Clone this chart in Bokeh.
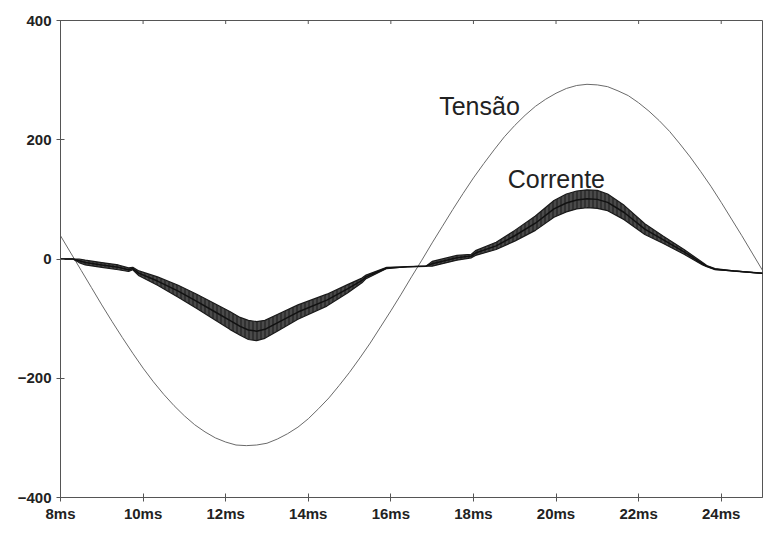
from math import pi

from bokeh.plotting import figure
from bokeh.models import FixedTicker, Range1d, ColumnDataSource
from bokeh.core.properties import value
from bokeh.embed import file_html
from bokeh.resources import INLINE

# Tensão (voltage) sampled every 0.25 ms from 8 ms to 25 ms
v_time = [8.00, 8.25, 8.50, 8.75, 9.00, 9.25, 9.50, 9.75, 10.00, 10.25, 10.50, 10.75,
          11.00, 11.25, 11.50, 11.75, 12.00, 12.25, 12.50, 12.75, 13.00, 13.25, 13.50, 13.75,
          14.00, 14.25, 14.50, 14.75, 15.00, 15.25, 15.50, 15.75, 16.00, 16.25, 16.50, 16.75,
          17.00, 17.25, 17.50, 17.75, 18.00, 18.25, 18.50, 18.75, 19.00, 19.25, 19.50, 19.75,
          20.00, 20.25, 20.50, 20.75, 21.00, 21.25, 21.50, 21.75, 22.00, 22.25, 22.50, 22.75,
          23.00, 23.25, 23.50, 23.75, 24.00, 24.25, 24.50, 24.75, 25.00]
tensao = [39, 10, -19, -48, -77, -105, -132, -158, -183, -206, -227, -246,
          -263, -278, -290, -300, -307, -312, -313, -312, -309, -302, -293, -282,
          -268, -251, -233, -212, -190, -166, -141, -114, -87, -59, -30, -2,
          27, 55, 83, 110, 136, 160, 183, 205, 224, 241, 256, 268,
          278, 286, 291, 293, 292, 289, 282, 274, 262, 248, 232, 214,
          193, 171, 147, 122, 95, 67, 39, 10, -19]

# Corrente (current): mean value and half-height of the switching ripple
c_time = [8.0, 8.3, 8.45, 8.6, 9.0, 9.4, 9.65, 9.75, 9.9, 10.35, 10.85, 11.3, 11.8,
          12.1, 12.35, 12.55, 12.75, 12.95, 13.25, 13.75, 14.45, 14.95, 15.3, 15.4, 15.9,
          16.4, 16.85, 17.0, 17.6, 17.95, 18.05, 18.55, 19.0, 19.5, 19.95, 20.25, 20.5,
          20.75, 21.0, 21.25, 21.65, 22.15, 22.6, 23.1, 23.55, 23.65, 23.85, 24.3, 25.0]
corrente = [0, 0, -3, -6, -10, -14, -18, -16, -24, -37, -54, -71, -91,
            -103, -113, -119, -121, -118, -107, -89, -69, -50, -36, -30, -15,
            -13, -12, -8, 2, 5, 10, 22, 39, 60, 84, 94, 99,
            101, 100, 95, 78, 50, 32, 12, -8, -12, -17, -20, -24]
ripple = [0, 0, 3, 4, 4, 4, 3, 2, 4, 7, 10, 12, 14,
          15, 15, 16, 16, 15, 14, 12, 10, 7, 4, 3, 1,
          0, 0, 4, 4, 3, 4, 6, 9, 12, 14, 15, 15,
          15, 15, 14, 12, 9, 6, 4, 2, 1, 1, 0, 0]

x_ticks = [8, 10, 12, 14, 16, 18, 20, 22, 24]
x_labels = ["8ms", "10ms", "12ms", "14ms", "16ms", "18ms", "20ms", "22ms", "24ms"]
y_ticks = [-400, -200, 0, 200, 400]

p = figure(width=765, height=535, x_range=Range1d(8, 25), y_range=Range1d(-400, 400),
           output_backend="svg", toolbar_location=None,
           min_border_left=60, min_border_right=3, min_border_top=20, min_border_bottom=38)
p.background_fill_color = "white"
p.border_fill_color = "white"
p.outline_line_color = "#555555"
p.outline_line_width = 1
p.xgrid.visible = False
p.ygrid.visible = False

# voltage trace
p.line(v_time, tensao, line_color="#6a6a6a", line_width=1)

# current band: dark envelope with the ripple's vertical strokes showing through
band = ColumnDataSource(dict(
    t=c_time,
    lo=[c - r for c, r in zip(corrente, ripple)],
    hi=[c + r for c, r in zip(corrente, ripple)],
))
p.varea(x="t", y1="lo", y2="hi", source=band, fill_color="#161616", fill_alpha=0.88,
        hatch_pattern="|", hatch_color="#8a8a8a", hatch_alpha=0.55,
        hatch_scale=4, hatch_weight=1)
p.line(x="t", y="lo", source=band, line_color="#1a1a1a", line_width=1.2)
p.line(x="t", y="hi", source=band, line_color="#1a1a1a", line_width=1.2)
p.line(c_time, corrente, line_color="#111111", line_width=1.5)

p.text(x=[17.17], y=[257], text=["Tensão"], text_font=value("Liberation Sans"),
       text_font_size="25px", text_color="#222222", text_baseline="alphabetic")
p.text(x=[18.83], y=[134], text=["Corrente"], text_font=value("Liberation Sans"),
       text_font_size="25px", text_color="#222222", text_baseline="alphabetic")

for ax in (p.xaxis[0], p.yaxis[0]):
    ax.axis_line_color = "#555555"
    ax.major_tick_line_color = "#555555"
    ax.major_tick_in = 4
    ax.major_tick_out = 4
    ax.minor_tick_line_color = None
    ax.major_label_text_font = "Liberation Sans"
    ax.major_label_text_font_style = "bold"
    ax.major_label_text_font_size = "15px"
    ax.major_label_text_color = "#222222"

p.xaxis[0].ticker = FixedTicker(ticks=x_ticks)
p.xaxis[0].major_label_overrides = dict(zip(x_ticks, x_labels))
p.xaxis[0].major_label_standoff = 3
p.yaxis[0].ticker = FixedTicker(ticks=y_ticks)
p.yaxis[0].major_label_standoff = 5

# small crossing tick marks along the top edge of the frame
p.scatter(x=x_ticks, y=[p.y_range.end] * len(x_ticks), marker="dash", angle=pi / 2,
          size=7, line_color="#555555", line_width=1)

open("out.html", "w").write(file_html(p, INLINE))
